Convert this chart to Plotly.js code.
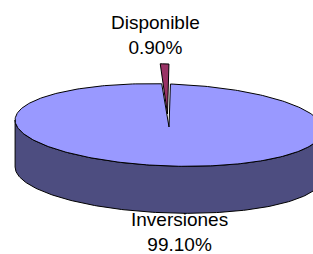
<!DOCTYPE html>
<html>
<head>
<meta charset="utf-8">
<script src="https://cdn.plot.ly/plotly-3.0.1.min.js"></script>
<style>html,body{margin:0;padding:0;background:#fff;}#chart{width:313px;height:254px;}</style>
</head>
<body>
<div id="chart"></div>
<script>
// ---- data ----
const labels = ['Disponible', 'Inversiones'];
const values = [0.9, 99.1];
const colorsTop = ['#993366', '#9999FF'];
const colorsSide = ['#4D1A33', '#4D4D80'];

// ---- geometry (styling constants) ----
const cx = 169, cy = 125, rx = 154, ry = 41, depth = 47;
const phi = 2 * Math.PI / 180;
const apex = [169, 127];
const explodeArc = [-1.5, -20], explodeApex = [-1.5, -13];
const total = values.reduce((a, b) => a + b, 0);
const deg = Math.PI / 180;

function pt(tDeg, dy) {
  const t = tDeg * deg;
  const u = rx * Math.sin(t), v = -ry * Math.cos(t);
  return [cx + u * Math.cos(phi) - v * Math.sin(phi), cy + u * Math.sin(phi) + v * Math.cos(phi) + (dy || 0)];
}
function arc(a0, a1, dy) {
  const n = Math.max(2, Math.ceil(Math.abs(a1 - a0) / 1));
  const out = [];
  for (let i = 0; i <= n; i++) out.push(pt(a0 + (a1 - a0) * i / n, dy));
  return out;
}

// slice angles: Disponible ends at 12 o'clock, Inversiones goes clockwise from 12 o'clock
const fr = values.map(v => v / total * 360);
const spans = [[-fr[0], 0], [0, fr[1]]];

const traces = [];
function poly(points, fill) {
  traces.push({
    type: 'scatter', mode: 'lines', fill: 'toself', fillcolor: fill,
    x: points.map(p => p[0]), y: points.map(p => p[1]),
    line: {color: '#000', width: 1}, hoverinfo: 'skip'
  });
}

// Inversiones side wall (front visible part)
const tR = Math.atan2(rx * Math.cos(phi), ry * Math.sin(phi)) / deg;
const tL = tR + 180;
const sideTop = arc(tR, tL, 0);
const sideBot = arc(tL, tR, depth);
poly(sideTop.concat(sideBot, [sideTop[0]]), colorsSide[1]);

// Inversiones top face
const invArc = arc(spans[1][0], spans[1][1], 0);
poly([apex].concat(invArc, [apex]), colorsTop[1]);

// Disponible top face (exploded)
const dArc = arc(spans[0][0], spans[0][1], 0).map(p => [p[0] + explodeArc[0], p[1] + explodeArc[1]]);
const dApex = [apex[0] + explodeApex[0], apex[1] + explodeApex[1]];
poly([dApex].concat(dArc, [dApex]), colorsTop[0]);

// labels
const pct = values.map(v => (v / total * 100).toFixed(2) + '%');
const labelPos = [[155, 35], [179.5, 232]];
const annotations = labels.map((l, i) => ({
  x: labelPos[i][0], y: labelPos[i][1], xref: 'x', yref: 'y',
  text: l + '<br>' + pct[i], showarrow: false, xanchor: 'center', yanchor: 'middle',
  font: {family: 'Liberation Sans, Arial, sans-serif', size: 19, color: '#000'}
}));

const layout = {
  width: 313, height: 254, margin: {l: 0, r: 0, t: 0, b: 0},
  paper_bgcolor: '#fff', plot_bgcolor: '#fff', showlegend: false,
  xaxis: {range: [0, 313], visible: false, fixedrange: true},
  yaxis: {range: [254, 0], visible: false, fixedrange: true},
  annotations: annotations, hovermode: false
};
Plotly.newPlot('chart', traces, layout, {staticPlot: true, displayModeBar: false});
</script>
</body>
</html>
